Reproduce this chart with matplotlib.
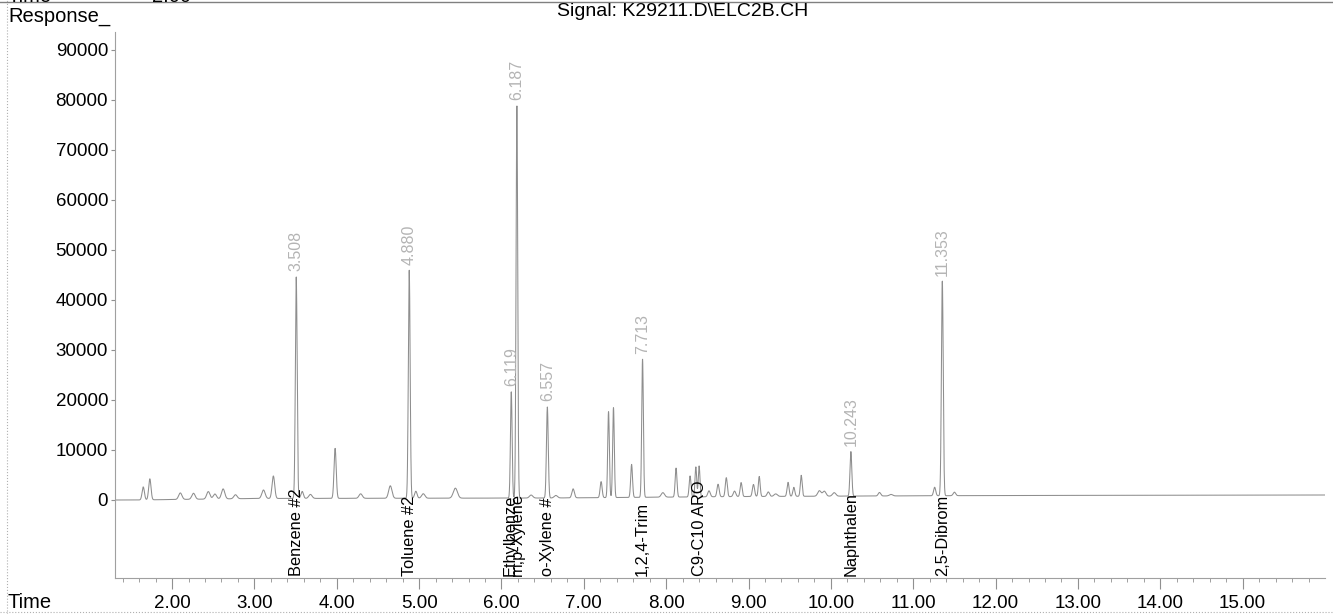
import numpy as np
import matplotlib
matplotlib.use("Agg")
import matplotlib.pyplot as plt
from matplotlib.ticker import FixedLocator, FuncFormatter
from matplotlib.lines import Line2D

plt.rcParams['font.family'] = ['Liberation Sans', 'DejaVu Sans']

# peak list: retention time (min), height above baseline, width (sigma, min)
peak_times = [1.65, 1.73, 2.10, 2.26, 2.44, 2.52, 2.62, 2.77, 3.11, 3.23, 3.508, 3.58, 3.68,
              3.98, 4.29, 4.65, 4.880, 4.96, 5.05, 5.44, 6.119, 6.187, 6.36, 6.557, 6.66,
              6.87, 7.21, 7.30, 7.36, 7.58, 7.713, 7.96, 8.12, 8.29, 8.36, 8.40, 8.52, 8.63,
              8.73, 8.83, 8.91, 9.06, 9.13, 9.24, 9.33, 9.48, 9.55, 9.64, 9.86, 9.92, 10.04,
              10.243, 10.59, 10.73, 11.26, 11.353, 11.50]
peak_heights = [2600, 4200, 1300, 1200, 1500, 1000, 2000, 800, 1700, 4500, 44300, 1400, 800,
                10000, 900, 2500, 45600, 1400, 900, 2000, 21300, 78600, 600, 18200, 500,
                1800, 3200, 17200, 18000, 6600, 27700, 900, 5800, 4200, 6000, 6200, 1200, 2500,
                3800, 1100, 2800, 2400, 4000, 900, 500, 2800, 1800, 4200, 1100, 1000, 700,
                8900, 700, 300, 1700, 43000, 700]
peak_widths = [0.014, 0.014, 0.02, 0.02, 0.02, 0.02, 0.02, 0.02, 0.02, 0.016, 0.011, 0.015, 0.02,
               0.013, 0.02, 0.02, 0.011, 0.015, 0.02, 0.025, 0.010, 0.010, 0.02, 0.011, 0.02,
               0.015, 0.012, 0.010, 0.010, 0.011, 0.010, 0.02, 0.011, 0.011, 0.010, 0.010, 0.015, 0.013,
               0.012, 0.015, 0.012, 0.013, 0.011, 0.015, 0.02, 0.012, 0.012, 0.011, 0.02, 0.02, 0.02,
               0.011, 0.015, 0.02, 0.013, 0.011, 0.015]

# slow baseline drift
base_times = [1.31, 1.55, 3.0, 6.6, 9.0, 12.0, 16.0]
base_values = [0, 0, 300, 400, 700, 900, 1000]

# annotated compounds
rt_labels = [3.508, 4.880, 6.119, 6.187, 6.557, 7.713, 10.243, 11.353]
compound_times = [3.508, 4.880, 6.110, 6.190, 6.557, 7.713, 8.400, 10.243, 11.353]
compound_names = ["Benzene #2", "Toluene #2", "Ethylbenze", "m,p-Xylene", "o-Xylene #",
                  "1,2,4-Trim", "C9-C10 ARO", "Naphthalen", "2,5-Dibrom"]

t = np.linspace(1.31, 16.0, 8000)
signal = np.interp(t, base_times, base_values).astype(float)
for rt, h, w in zip(peak_times, peak_heights, peak_widths):
    signal += h * np.exp(-0.5 * ((t - rt) / w) ** 2)

fig = plt.figure(figsize=(13.33, 6.14), dpi=100)
ax = fig.add_axes([115 / 1333, 36 / 614, 1210 / 1333, 546 / 614])
ax.plot(t, signal, color='#8e8e8e', lw=0.75)

ymin, ymax = -15600, 93600
ax.set_xlim(1.307, 16.0)
ax.set_ylim(ymin, ymax)

for s in ['top', 'right']:
    ax.spines[s].set_visible(False)
for s in ['left', 'bottom']:
    ax.spines[s].set_color('#a0a0a0')
    ax.spines[s].set_linewidth(0.8)

ax.xaxis.set_major_locator(FixedLocator(np.arange(2, 16, 1)))
ax.xaxis.set_minor_locator(FixedLocator(np.arange(1.4, 16.0, 0.2)))
ax.xaxis.set_major_formatter(FuncFormatter(lambda v, p: "%.2f" % v))
ax.yaxis.set_major_locator(FixedLocator(np.arange(0, 90001, 10000)))
ax.yaxis.set_major_formatter(FuncFormatter(lambda v, p: "%d" % v))
ax.tick_params(axis='both', which='major', labelsize=13.5, color='#909090', width=0.8)
ax.tick_params(axis='x', which='major', length=8, pad=4)
ax.tick_params(axis='x', which='minor', color='#a0a0a0', length=3, width=0.7)
ax.tick_params(axis='y', length=3, pad=2)

# retention time labels above peaks
for rt in rt_labels:
    i = np.argmin(np.abs(t - rt))
    top = signal[max(i - 20, 0):i + 20].max()
    ax.annotate("%.3f" % rt, (rt, top), xytext=(0, 4), textcoords='offset points',
                rotation=90, ha='center', va='bottom', fontsize=11.5, color='#b4b4b4')

# compound names along the bottom
for rt, name in zip(compound_times, compound_names):
    ax.text(rt, ymin + 300, name, rotation=90, ha='center', va='bottom', fontsize=11.8,
            color='black')

fig.text(8 / 1333, 1 - 16 / 614, "Response_", fontsize=14.5, ha='left', va='center')
fig.text(8 / 1333, 1 - 603 / 614, "Time", fontsize=14.5, ha='left', va='center')
fig.text(557 / 1333, 1 - 12 / 614, "Signal: K29211.D\\ELC2B.CH", fontsize=14, ha='left',
         va='center')
# page header cut off by the scan
fig.text(8 / 1333, 1 + 4 / 614, "Time", fontsize=14.5, ha='left', va='center')
fig.text(152 / 1333, 1 + 4 / 614, "2.00", fontsize=14.5, ha='left', va='center')

# scan page borders
fig.add_artist(Line2D([0, 1], [1 - 2 / 614, 1 - 2 / 614], transform=fig.transFigure,
                      color='#808080', lw=1.0))
fig.add_artist(Line2D([7 / 1333, 7 / 1333], [0, 1], transform=fig.transFigure,
                      color='#b0b0b0', lw=0.8, ls=':'))
fig.add_artist(Line2D([0, 1], [2 / 614, 2 / 614], transform=fig.transFigure,
                      color='#b0b0b0', lw=0.8, ls=':'))

fig.savefig("out.png", dpi=100)
